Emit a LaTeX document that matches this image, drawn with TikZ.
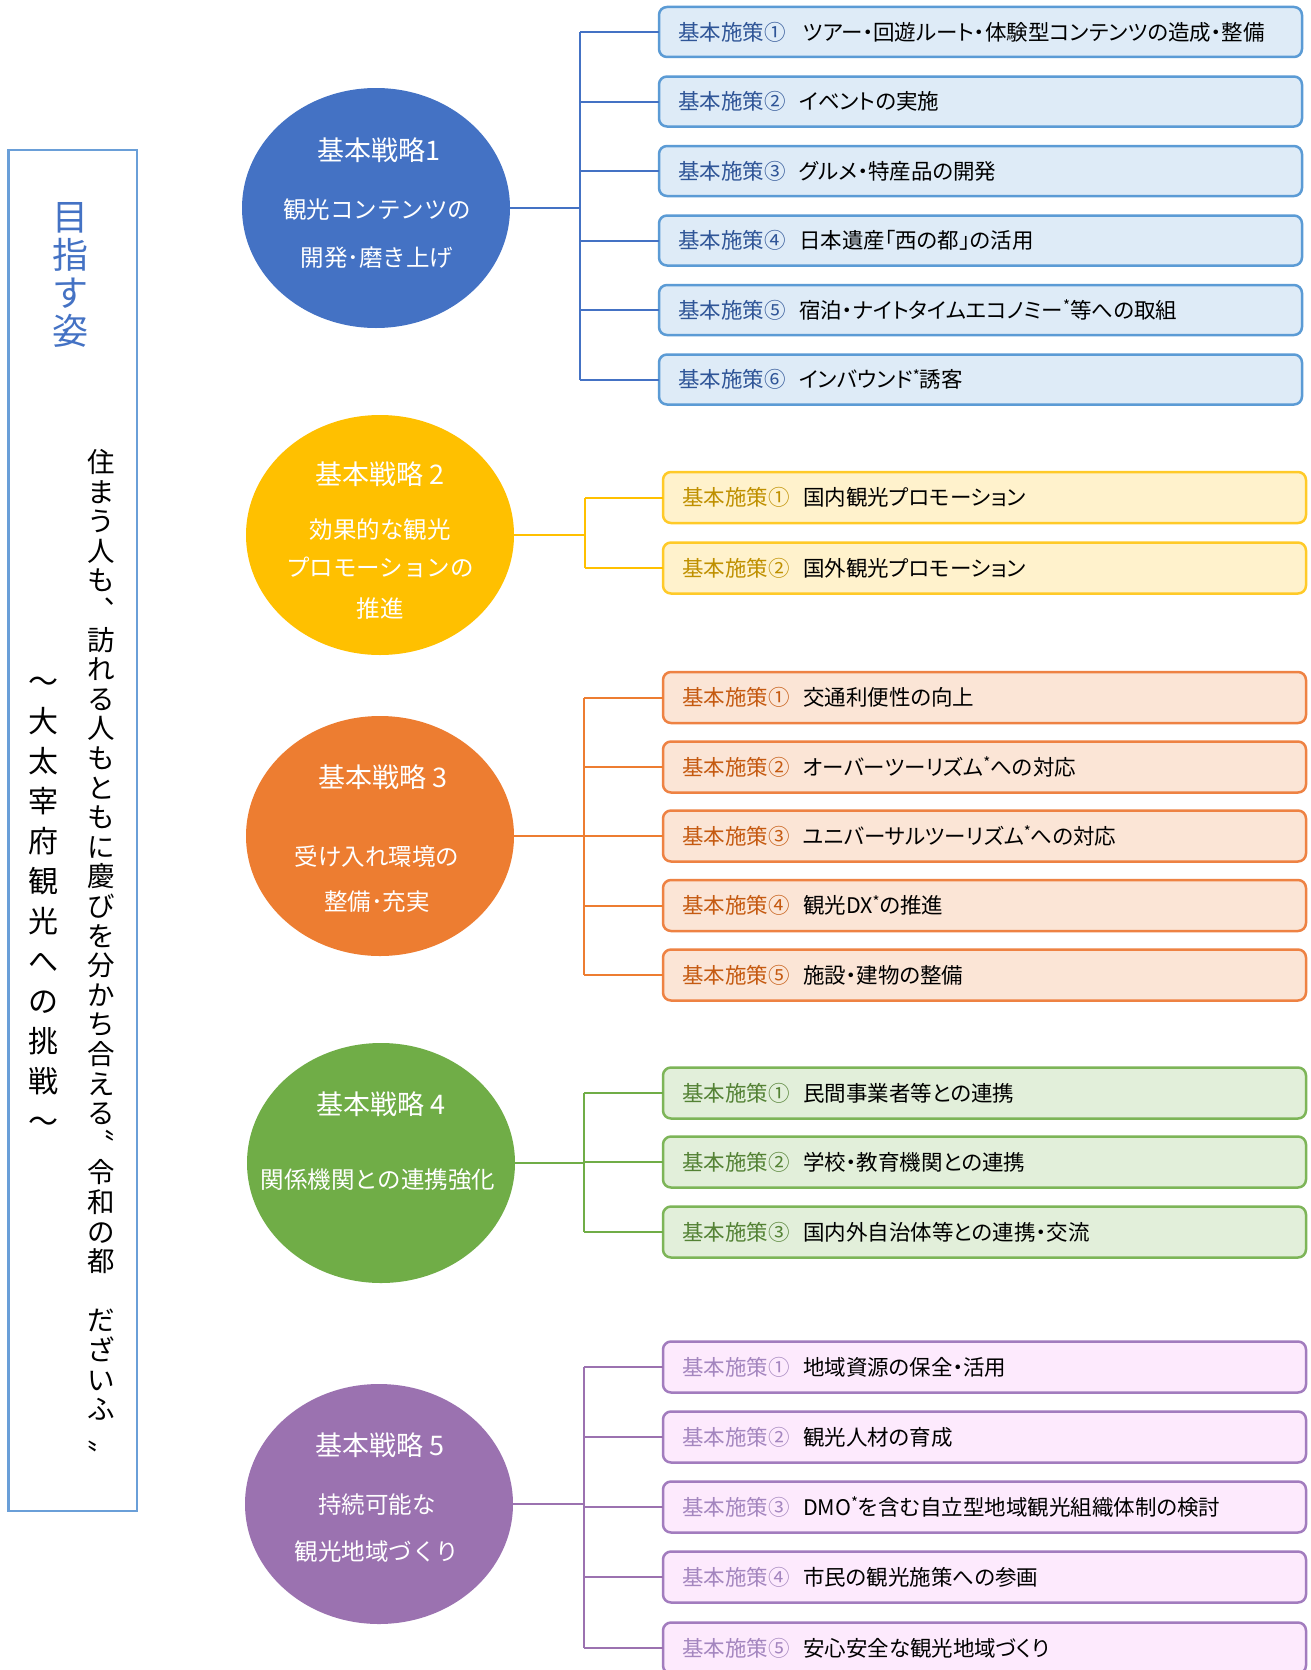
\documentclass[tikz,border=0pt]{standalone}
\usepackage{fontspec}
\setmainfont{Noto Sans CJK JP}
\newfontfamily\pfont[RawFeature=+palt]{Noto Sans CJK JP}
\usetikzlibrary{shapes.geometric}
\definecolor{bl}{HTML}{4472C4}
\definecolor{blb}{HTML}{5B9BD5}
\definecolor{blf}{HTML}{DEEBF7}
\definecolor{bll}{HTML}{2F5597}
\definecolor{yl}{HTML}{FFC000}
\definecolor{ylb}{HTML}{FFCA28}
\definecolor{ylf}{HTML}{FFF2CC}
\definecolor{yll}{HTML}{BF9000}
\definecolor{orr}{HTML}{ED7D31}
\definecolor{orb}{HTML}{EE8243}
\definecolor{orf}{HTML}{FBE5D6}
\definecolor{orl}{HTML}{C55A11}
\definecolor{gr}{HTML}{70AD47}
\definecolor{grb}{HTML}{7DB558}
\definecolor{grf}{HTML}{E2EFDA}
\definecolor{grl}{HTML}{548235}
\definecolor{pu}{HTML}{9B72B0}
\definecolor{pub}{HTML}{A27CBE}
\definecolor{puf}{HTML}{FDEAFD}
\definecolor{pul}{HTML}{A486BF}
\definecolor{lbc}{HTML}{6A9FD8}
\newcommand\astk{\raisebox{0.3em}{\fontsize{15}{15}\selectfont *}}
\newcommand\bx[3]{\makebox[643pt][l]{\hspace*{19pt}{\color{#1}基本施策#2}\hspace{13.5pt}{\pfont #3}}}
\tikzset{
  strat/.style={ellipse, fill=#1, draw=none, minimum width=268pt, minimum height=240pt, inner sep=0pt, outer sep=0pt},
  sttitle/.style={text=white, font=\fontsize{27}{30}\selectfont, inner sep=0pt, text height=23.8pt, text depth=3.2pt},
  stline/.style={text=white, font=\fontsize{23.5}{26}\selectfont, inner sep=0pt, text height=20.7pt, text depth=2.8pt},
  pbox/.style 2 args={draw=#1, fill=#2, rounded corners=8pt, line width=2.5pt, minimum height=51pt, inner xsep=0pt, inner ysep=0pt, outer sep=0pt, anchor=west, font=\fontsize{21.5}{24}\selectfont, text height=18.9pt, text depth=2.6pt},
  tline/.style={draw=#1, line width=2pt},
}
\begin{document}
\begin{tikzpicture}[x=1pt,y=-1pt]
\useasboundingbox (0,0) rectangle (1311,1670);
\fill[white] (0,0) rectangle (1311,1670);

% left box
\node[draw=lbc, line width=2.5pt, minimum width=128.5pt, minimum height=1361pt, inner sep=0pt] (lb) at (72.75,830.5) {};
\node[text=bl, font=\fontsize{36}{38}\selectfont, align=center, inner sep=0pt] (goal) at (70,275) {目\\指\\す\\姿};
\node[font=\fontsize{27.5}{29.6}\selectfont, align=center, inner sep=0pt] (vision) at (101,950.5)
 {住\\ま\\う\\人\\も\\︑\\訪\\れ\\る\\人\\も\\と\\も\\に\\慶\\び\\を\\分\\か\\ち\\合\\え\\る\\〝\\令\\和\\の\\都\\ \\だ\\ざ\\い\\ふ\\〟};
\node[font=\fontsize{30}{40}\selectfont, align=center, inner sep=0pt] (sub) at (43,905)
 {～\\大\\太\\宰\\府\\観\\光\\へ\\の\\挑\\戦\\～};

% strategy circles
\node[strat=bl] (c1) at (376,208) {};
\node[sttitle] (c1t) at (379,150) {基本戦略1};
\node[stline] (c1a) at (377,210) {観光コンテンツの};
\node[stline] (c1b) at (377,258) {開発･磨き上げ};

\node[strat=yl] (c2) at (380,535) {};
\node[sttitle] (c2t) at (380,474) {基本戦略 2};
\node[stline] (c2a) at (380,530) {効果的な観光};
\node[stline] (c2b) at (380,568) {プロモーションの};
\node[stline] (c2c) at (380,609) {推進};

\node[strat=orr] (c3) at (380,836) {};
\node[sttitle] (c3t) at (383,777) {基本戦略 3};
\node[stline] (c3a) at (377,857) {受け入れ環境の};
\node[stline] (c3b) at (377,902) {整備･充実};

\node[strat=gr] (c4) at (381,1163) {};
\node[sttitle] (c4t) at (381,1104) {基本戦略 4};
\node[stline] (c4a) at (378,1180) {関係機関との連携強化};

\node[strat=pu] (c5) at (379,1504) {};
\node[sttitle] (c5t) at (380,1445) {基本戦略 5};
\node[stline] (c5a) at (377,1505) {持続可能な};
\node[stline] (c5b) at (377,1552) {観光地域づくり};

% group 1
\node[pbox={blb}{blf}, minimum height=50pt] (b11) at (659,32) {\bx{bll}{①}{\hspace{4pt}ツアー・回遊ルート・体験型コンテンツの造成・整備}};
\node[pbox={blb}{blf}, minimum height=50pt] (b12) at (659,101.5) {\bx{bll}{②}{イベントの実施}};
\node[pbox={blb}{blf}, minimum height=50pt] (b13) at (659,171) {\bx{bll}{③}{グルメ・特産品の開発}};
\node[pbox={blb}{blf}, minimum height=50pt] (b14) at (659,240.5) {\bx{bll}{④}{日本遺産「西の都」の活用}};
\node[pbox={blb}{blf}, minimum height=50pt] (b15) at (659,310) {\bx{bll}{⑤}{宿泊・ナイトタイムエコノミー\astk 等への取組}};
\node[pbox={blb}{blf}, minimum height=50pt] (b16) at (659,379.5) {\bx{bll}{⑥}{インバウンド\astk 誘客}};
\coordinate (t1) at (580,0);
\draw[tline=bl] (b11.west -| t1) -- (b16.west -| t1);
\foreach \i in {1,...,6} \draw[tline=bl] (b1\i.west -| t1) -- (b1\i.west);
\draw[tline=bl] (c1.east) -- (c1.east -| t1);

% group 2
\node[pbox={ylb}{ylf}] (b21) at (663,497.5) {\bx{yll}{①}{国内観光プロモーション}};
\node[pbox={ylb}{ylf}] (b22) at (663,568) {\bx{yll}{②}{国外観光プロモーション}};
\coordinate (t2) at (585,0);
\draw[tline=yl] (b21.west -| t2) -- (b22.west -| t2);
\foreach \i in {1,2} \draw[tline=yl] (b2\i.west -| t2) -- (b2\i.west);
\draw[tline=yl] (c2.east) -- (c2.east -| t2);

% group 3
\node[pbox={orb}{orf}] (b31) at (663,697.5) {\bx{orl}{①}{交通利便性の向上}};
\node[pbox={orb}{orf}] (b32) at (663,767) {\bx{orl}{②}{オーバーツーリズム\astk への対応}};
\node[pbox={orb}{orf}] (b33) at (663,836) {\bx{orl}{③}{ユニバーサルツーリズム\astk への対応}};
\node[pbox={orb}{orf}] (b34) at (663,905.5) {\bx{orl}{④}{観光DX\astk の推進}};
\node[pbox={orb}{orf}] (b35) at (663,975) {\bx{orl}{⑤}{施設・建物の整備}};
\coordinate (t3) at (584,0);
\draw[tline=orr] (b31.west -| t3) -- (b35.west -| t3);
\foreach \i in {1,...,5} \draw[tline=orr] (b3\i.west -| t3) -- (b3\i.west);
\draw[tline=orr] (c3.east) -- (c3.east -| t3);

% group 4
\node[pbox={grb}{grf}] (b41) at (663,1093) {\bx{grl}{①}{民間事業者等との連携}};
\node[pbox={grb}{grf}] (b42) at (663,1162) {\bx{grl}{②}{学校・教育機関との連携}};
\node[pbox={grb}{grf}] (b43) at (663,1232) {\bx{grl}{③}{国内外自治体等との連携・交流}};
\coordinate (t4) at (584,0);
\draw[tline=gr] (b41.west -| t4) -- (b43.west -| t4);
\foreach \i in {1,2,3} \draw[tline=gr] (b4\i.west -| t4) -- (b4\i.west);
\draw[tline=gr] (c4.east) -- (c4.east -| t4);

% group 5
\node[pbox={pub}{puf}] (b51) at (663,1367) {\bx{pul}{①}{地域資源の保全・活用}};
\node[pbox={pub}{puf}] (b52) at (663,1437) {\bx{pul}{②}{観光人材の育成}};
\node[pbox={pub}{puf}] (b53) at (663,1507) {\bx{pul}{③}{DMO\astk を含む自立型地域観光組織体制の検討}};
\node[pbox={pub}{puf}] (b54) at (663,1577) {\bx{pul}{④}{市民の観光施策への参画}};
\node[pbox={pub}{puf}] (b55) at (663,1648) {\bx{pul}{⑤}{安心安全な観光地域づくり}};
\coordinate (t5) at (584,0);
\draw[tline=pu] (b51.west -| t5) -- (b55.west -| t5);
\foreach \i in {1,...,5} \draw[tline=pu] (b5\i.west -| t5) -- (b5\i.west);
\draw[tline=pu] (c5.east) -- (c5.east -| t5);
\end{tikzpicture}
\end{document}
